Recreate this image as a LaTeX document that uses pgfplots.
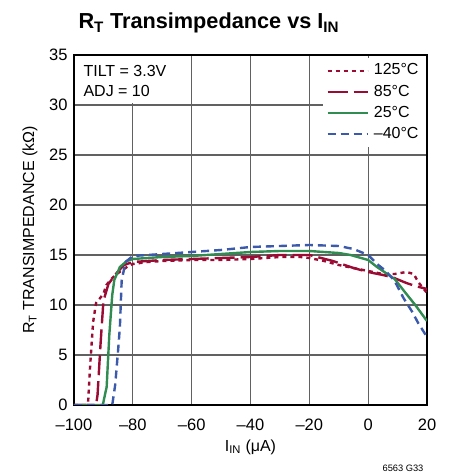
\documentclass[border=0pt]{standalone}
\usepackage{fontspec}
\setmainfont{Liberation Sans}
\usepackage{pgfplots}
\pgfplotsset{compat=1.18}
\definecolor{cred}{RGB}{155,12,52}
\definecolor{cgreen}{RGB}{48,140,80}
\definecolor{cblue}{RGB}{60,90,172}
\begin{document}
\begin{tikzpicture}
\useasboundingbox (-74pt,-68pt) rectangle (379pt,405pt);
\begin{axis}[
  at={(0,0)}, anchor=south west,
  scale only axis, width=353pt, height=350pt,
  xmin=-100, xmax=20, ymin=0, ymax=35,
  xtick={-100,-80,-60,-40,-20,0,20},
  xticklabels={–100,–80,–60,–40,–20,0,20},
  ytick={0,5,10,15,20,25,30,35},
  yticklabels={0,5,10,15,20,25,30,35},
  grid=major, major grid style={black!62, line width=1.1pt},
  axis line style={line width=1.4pt},
  major tick length=0pt,
  ticklabel style={font=\fontsize{16.5}{18}\selectfont},
  xticklabel style={anchor=base, yshift=-25pt},
  yticklabel style={anchor=east, xshift=-3pt},
  legend style={at={(1,1)}, anchor=north east, xshift=-1pt, yshift=-3pt,
    draw=none, fill=white, font=\fontsize{16}{18}\selectfont,
    nodes={text height=11.5pt, text depth=3pt, inner sep=3.3pt},
    column sep=2pt, inner xsep=4pt,
    legend cell align=left},
  legend image code/.code={\draw[#1, line width=2pt] (0pt,0pt) -- (40pt,0pt);},
  every axis plot/.append style={line width=2.4pt, line join=round},
]
\addplot[cred, dash pattern=on 4pt off 4pt] coordinates {
(-100,0) (-96,0) (-95.2,0.3) (-94.5,4) (-93.5,8.3) (-92.5,10.2) (-90,11.1) (-89,12) (-87,12.7) (-85,13.2) (-82,13.8) (-80,14.1) (-75,14.3) (-70,14.4) (-60,14.5) (-50,14.5) (-40,14.6) (-30,14.8) (-23,14.8) (-20,14.7) (-15,14.4) (-10,14.0) (-5,13.7) (0,13.4) (5,13.1) (9,13.1) (13,13.3) (15.5,13.1) (17,12.3) (20,11.2)};
\addlegendentry{125°C}
\addplot[cred, dash pattern=on 20pt off 6pt] coordinates {
(-100,0) (-92.5,0) (-92,1) (-91,6) (-90,10.4) (-88.3,12.1) (-85.5,13.2) (-83,14.0) (-80,14.3) (-70,14.5) (-60,14.6) (-50,14.7) (-40,14.8) (-30,15.0) (-20,15.0) (-12,14.4) (-5,13.7) (0,13.3) (5,13.0) (8,12.8) (13,12.2) (16,11.9) (20,11.6)};
\addlegendentry{85°C}
\addplot[cgreen, solid] coordinates {
(-100,0) (-90.2,0) (-89.5,1) (-88.9,1.8) (-88,7) (-87,11) (-86.3,12.5) (-84.4,13.8) (-82,14.4) (-80,14.6) (-70,14.8) (-60,14.9) (-50,15.1) (-40,15.3) (-30,15.4) (-20,15.4) (-10,15.2) (-6,15.0) (0,14.5) (3,13.8) (9,12.6) (13,11.1) (16,10.0) (20,8.4)};
\addlegendentry{25°C}
\addplot[cblue, dash pattern=on 8pt off 5pt] coordinates {
(-100,0) (-87,0) (-86,2) (-85,5.5) (-84.4,7.8) (-83.8,12.4) (-82.5,14.3) (-80,14.9) (-70,15.1) (-60,15.3) (-50,15.5) (-40,15.8) (-30,15.9) (-20,16.0) (-10,15.9) (-5,15.6) (0,15.0) (3,14.1) (6,13.4) (9,12.4) (12,10.7) (15,9.3) (17,8.2) (20,6.8)};
\addlegendentry{–40°C}
\end{axis}
\fill[white] (1pt,302pt) rectangle (116pt,349pt);
\node[anchor=base west, font=\fontsize{16}{20}\selectfont] at (6pt,328pt) {TILT = 3.3V};
\node[anchor=base west, font=\fontsize{16}{20}\selectfont] at (6pt,308pt) {ADJ = 10};
\node[anchor=base west, font=\bfseries\fontsize{21.7}{24}\selectfont] at (1pt,376pt) {R\textsubscript{T} Transimpedance vs I\textsubscript{IN}};
\node[anchor=base, font=\fontsize{16}{18}\selectfont] at (176.5pt,-46pt) {I\textsubscript{IN} (μA)};
\node[rotate=90, anchor=center, font=\fontsize{16}{18}\selectfont] at (-44pt,175pt) {R\textsubscript{T} TRANSIMPEDANCE (kΩ)};
\node[anchor=base, font=\fontsize{9.3}{11}\selectfont] at (329pt,-66pt) {6563 G33};
\end{tikzpicture}
\end{document}
